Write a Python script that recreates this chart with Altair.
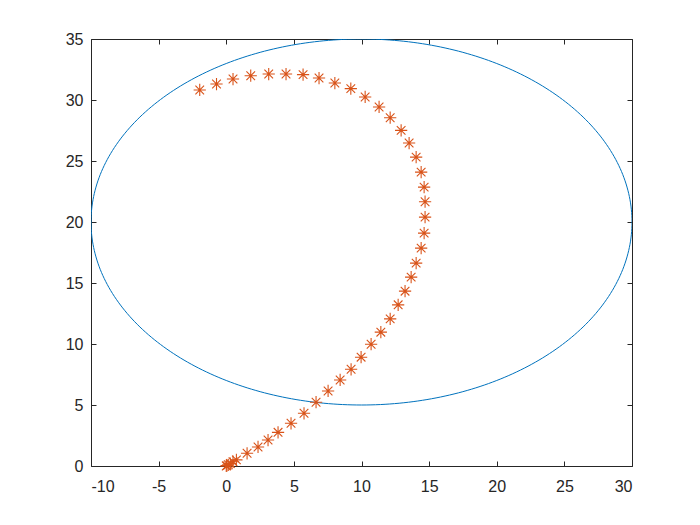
import altair as alt
import numpy as np
import pandas as pd

# Trajectory (orange asterisks)
traj_x = [0.0, 0.05, 0.15, 0.3, 0.5, 0.75, 1.54, 2.35, 3.09, 3.83, 4.79, 5.75, 6.64, 7.53,
          8.42, 9.23, 9.97, 10.71, 11.43, 12.12, 12.71, 13.22, 13.67, 14.04, 14.41, 14.63,
          14.70, 14.70, 14.63, 14.41, 14.04, 13.52, 12.93, 12.12, 11.30, 10.27, 9.21, 8.03,
          6.86, 5.68, 4.42, 3.14, 1.81, 0.50, -0.72, -1.96]
traj_y = [0.0, 0.03, 0.1, 0.2, 0.35, 0.5, 1.04, 1.56, 2.13, 2.76, 3.50, 4.32, 5.23, 6.15,
          7.05, 7.93, 8.92, 9.98, 10.97, 12.06, 13.21, 14.33, 15.48, 16.63, 17.86, 19.09,
          20.40, 21.66, 22.86, 24.09, 25.32, 26.47, 27.51, 28.55, 29.43, 30.25, 30.93, 31.39,
          31.80, 32.08, 32.13, 32.13, 31.99, 31.72, 31.31, 30.82]

# Ellipse (blue line): centre and semi-axes
ellipse_center = (10, 20)
ellipse_radii = (20, 15)

x_ticks = [-10, -5, 0, 5, 10, 15, 20, 25, 30]
y_ticks = [0, 5, 10, 15, 20, 25, 30, 35]

t = np.linspace(0, 2 * np.pi, 361)
ell = pd.DataFrame({
    "x": ellipse_center[0] + ellipse_radii[0] * np.cos(t),
    "y": ellipse_center[1] + ellipse_radii[1] * np.sin(t),
    "order": np.arange(len(t)),
})
traj = pd.DataFrame({"x": traj_x, "y": traj_y})

xs = alt.Scale(domain=[-10, 30], nice=False, zero=False)
ys = alt.Scale(domain=[0, 35], nice=False, zero=False)

axis_common = dict(
    grid=False,
    domainColor="#262626",
    domainWidth=1,
    tickColor="#262626",
    tickWidth=1,
    tickSize=alt.ExprRef(expr="-5"),
    labelFont="Liberation Sans",
    labelFontSize=16,
    labelColor="#262626",
    labelExpr="'' + datum.value",
    title=None,
)

line = alt.Chart(ell).mark_line(color="#0072BD", strokeWidth=1, clip=True).encode(
    x=alt.X("x:Q", scale=xs, axis=alt.Axis(values=x_ticks, orient="bottom", labelPadding=17, **axis_common)),
    y=alt.Y("y:Q", scale=ys, axis=alt.Axis(values=y_ticks, orient="left", labelPadding=13, **axis_common)),
    order="order:Q",
)

star = "M-1,0L1,0M0,-1L0,1M-0.7071,-0.7071L0.7071,0.7071M-0.7071,0.7071L0.7071,-0.7071"
pts = alt.Chart(traj).mark_point(
    shape=star, filled=False, color="#D95319", strokeWidth=1.1, size=150, opacity=1
).encode(
    x=alt.X("x:Q", scale=xs, axis=alt.Axis(values=x_ticks, orient="top", labels=False, **axis_common)),
    y=alt.Y("y:Q", scale=ys, axis=alt.Axis(values=y_ticks, orient="right", labels=False, **axis_common)),
)

chart = alt.layer(line, pts).resolve_axis(x="independent", y="independent").properties(
    width=541,
    height=427,
    autosize=alt.AutoSizeParams(type="none"),
    padding={"left": 83, "top": 31, "right": 40, "bottom": 50},
    background="white",
).configure_view(stroke=None)

chart.save("out.html", embed_options={"renderer": "svg", "actions": False})
